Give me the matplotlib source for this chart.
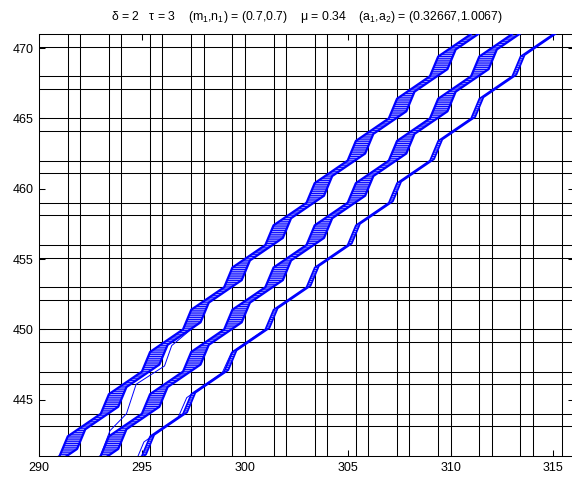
"""Staircase trajectory bands over the signal lattice (delta=2, tau=3)."""

import matplotlib
matplotlib.use("Agg")
import matplotlib.pyplot as plt
from matplotlib.patches import Polygon
import numpy as np

# Lattice lines
grid_x_main = [292, 294, 296, 298, 300, 302, 304, 306, 308, 310, 312, 314]
grid_x_split = [291.4, 293.4, 295.4, 297.4, 299.4, 301.4, 303.4, 305.4,
                307.4, 309.4, 311.4, 313.4, 315.4]
grid_y_main = [444, 447, 450, 453, 456, 459, 462, 465, 468]
grid_y_split = [443.1, 446.1, 449.1, 452.1, 455.1, 458.1, 461.1, 464.1,
                467.1, 470.1]

# Left edge of each band: corner points (steep start, steep end, ...)
upper_x = [289.0, 289.4, 291.0, 291.4, 293.0, 293.4, 295.0, 295.4, 297.0,
           297.4, 299.0, 299.4, 301.0, 301.4, 303.0, 303.4, 305.0, 305.4,
           307.0, 307.4, 309.0, 309.4, 311.0, 311.4]
upper_y = [438.0, 439.4, 441.0, 442.4, 444.0, 445.4, 447.0, 448.4, 450.0,
           451.4, 453.0, 454.4, 456.0, 457.4, 459.0, 460.4, 462.0, 463.4,
           465.0, 466.4, 468.0, 469.4, 471.0, 472.4]

middle_x = [291.0, 291.4, 293.0, 293.4, 295.0, 295.4, 297.0, 297.4, 299.0,
            299.4, 301.0, 301.4, 303.0, 303.4, 305.0, 305.4, 307.0, 307.4,
            309.0, 309.4, 311.0, 311.4, 313.0, 313.4]
middle_y = [438.0, 439.4, 441.0, 442.4, 444.0, 445.4, 447.0, 448.4, 450.0,
            451.4, 453.0, 454.4, 456.0, 457.4, 459.0, 460.4, 462.0, 463.4,
            465.0, 466.4, 468.0, 469.4, 471.0, 472.4]

lower_x = [293.0, 293.4, 295.0, 295.4, 297.0, 297.4, 299.0, 299.4, 301.0,
           301.4, 303.0, 303.4, 305.0, 305.4, 307.0, 307.4, 309.0, 309.4,
           311.0, 311.4, 313.0, 313.4, 315.0, 315.4]
lower_y = [438.0, 439.4, 441.0, 442.4, 444.0, 445.4, 447.0, 448.4, 450.0,
           451.4, 453.0, 454.4, 456.0, 457.4, 459.0, 460.4, 462.0, 463.4,
           465.0, 466.4, 468.0, 469.4, 471.0, 472.4]

# Spread of each band (right edge = left edge + offset)
upper_width = (0.85, 0.5)
middle_width = (0.85, 0.5)
lower_width = (0.2, 0.1)

# Stray trajectories near the bottom that join the bands
stray1_x = [292.85, 293.45, 294.25, 294.72, 296.1, 296.45, 297.8]
stray1_y = [440.5, 442.8, 444.0, 446.1, 447.4, 448.85, 450.5]
stray2_x = [294.7, 295.1, 296.75, 297.18, 298.9, 299.35, 301.0]
stray2_y = [440.6, 442.0, 443.7, 445.15, 446.9, 448.35, 450.0]

title = (r"$\delta$ = 2   $\tau$ = 3    (m$_1$,n$_1$) = (0.7,0.7)    "
         r"$\mu$ = 0.34    (a$_1$,a$_2$) = (0.32667,1.0067)")

plt.rcParams['font.family'] = ['Liberation Sans', 'DejaVu Sans']
plt.rcParams['mathtext.fontset'] = 'custom'
plt.rcParams['mathtext.rm'] = 'Liberation Sans'
plt.rcParams['mathtext.it'] = 'Liberation Sans'
plt.rcParams['hatch.linewidth'] = 0.7
plt.rcParams['hatch.color'] = 'blue'

fig = plt.figure(figsize=(5.72, 4.79), dpi=100)
ax = fig.add_axes([39 / 572, 23 / 479, 535 / 572, 422 / 479])

for gx in grid_x_main + grid_x_split:
    ax.axvline(gx, color='black', lw=0.75, zorder=1)
for gy in grid_y_main + grid_y_split:
    ax.axhline(gy, color='black', lw=0.75, zorder=1)


def draw_band(xs, ys, width, lw):
    xl = np.array(xs)
    yl = np.array(ys)
    xr = xl + width[0]
    yr = yl + width[1]
    pts = np.column_stack([np.concatenate([xl, xr[::-1]]),
                           np.concatenate([yl, yr[::-1]])])
    ax.add_patch(Polygon(pts, closed=True, facecolor='#b4b4ff',
                         edgecolor='blue', hatch='---------', lw=0,
                         zorder=2))
    ax.plot(xl, yl, color='blue', lw=lw, zorder=3)
    ax.plot(xr, yr, color='blue', lw=lw, zorder=3)


draw_band(upper_x, upper_y, upper_width, 1.6)
draw_band(middle_x, middle_y, middle_width, 1.6)
draw_band(lower_x, lower_y, lower_width, 1.2)
ax.plot(stray1_x, stray1_y, color='blue', lw=0.7, zorder=3)
ax.plot(stray2_x, stray2_y, color='blue', lw=0.7, zorder=3)

ax.set_xlim(290, 316)
ax.set_ylim(441, 471)
ax.set_xticks([290, 295, 300, 305, 310, 315])
ax.set_yticks([445, 450, 455, 460, 465, 470])
ax.tick_params(direction='in', length=4, width=0.75, labelsize=9,
               top=True, right=True, pad=4)
for sp in ax.spines.values():
    sp.set_linewidth(0.75)
ax.set_title(title, fontsize=8.8, pad=10)

fig.savefig('out.png', dpi=100)
